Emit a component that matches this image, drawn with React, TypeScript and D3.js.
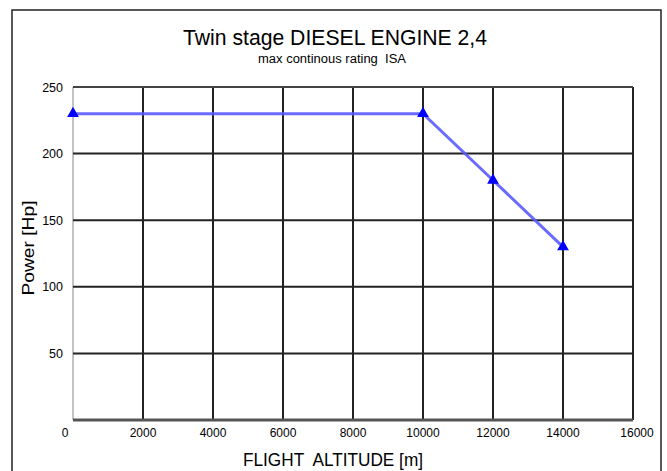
import { useEffect, useRef } from 'react';
import * as d3 from 'd3';

const altitudes = [0, 10000, 12000, 14000];
const power = [230, 230, 180, 130];
const xTicks = [0, 2000, 4000, 6000, 8000, 10000, 12000, 14000, 16000];
const yTicks = [0, 50, 100, 150, 200, 250];

const App = () => {
  const svgRef = useRef(null);

  useEffect(() => {
    if (!svgRef.current) return;
    const width = 667;
    const height = 471;
    const left = 73;
    const right = 633;
    const top = 87;
    const bottom = 420;
    const font = 'Liberation Sans, Arial, sans-serif';

    const svg = d3.select(svgRef.current);
    svg.selectAll('*').remove();
    svg.attr('width', width).attr('height', height).style('background', '#fff');

    // outer frame
    svg
      .append('rect')
      .attr('x', 12)
      .attr('y', 10)
      .attr('width', 649)
      .attr('height', 480)
      .attr('fill', 'none')
      .attr('stroke', '#222')
      .attr('stroke-width', 1.5);

    const x = d3.scaleLinear().domain([0, 16000]).range([left, right]);
    const y = d3.scaleLinear().domain([0, 250]).range([bottom, top]);

    // grid
    svg
      .append('g')
      .selectAll('line')
      .data(xTicks.slice(1))
      .join('line')
      .attr('x1', (d) => x(d))
      .attr('x2', (d) => x(d))
      .attr('y1', top)
      .attr('y2', bottom)
      .attr('stroke', '#222')
      .attr('stroke-width', 2);

    svg
      .append('line')
      .attr('x1', left)
      .attr('x2', left)
      .attr('y1', top)
      .attr('y2', bottom)
      .attr('stroke', '#888')
      .attr('stroke-width', 1);

    svg
      .append('g')
      .selectAll('line')
      .data(yTicks.slice(1))
      .join('line')
      .attr('x1', left)
      .attr('x2', right)
      .attr('y1', (d) => y(d))
      .attr('y2', (d) => y(d))
      .attr('stroke', (d) => (d === 250 ? '#444' : '#222'))
      .attr('stroke-width', 2);

    svg
      .append('line')
      .attr('x1', left)
      .attr('x2', right)
      .attr('y1', bottom)
      .attr('y2', bottom)
      .attr('stroke', '#555')
      .attr('stroke-width', 3);

    // tick labels
    svg
      .append('g')
      .selectAll('text')
      .data(xTicks)
      .join('text')
      .attr('x', (d) => x(d) + (d === 0 ? -8 : d === 16000 ? 4 : 0))
      .attr('y', 437)
      .attr('text-anchor', 'middle')
      .attr('font-family', font)
      .attr('font-size', 12)
      .text((d) => d);

    svg
      .append('g')
      .selectAll('text')
      .data(yTicks.slice(1))
      .join('text')
      .attr('x', 63)
      .attr('y', (d) => y(d) + 4.5)
      .attr('text-anchor', 'end')
      .attr('font-family', font)
      .attr('font-size', 12.5)
      .text((d) => d);

    // series
    const pts = altitudes.map((a, i) => [a, power[i]] as [number, number]);
    svg
      .append('path')
      .datum(pts)
      .attr('fill', 'none')
      .attr('stroke', '#5a5aff')
      .attr('stroke-width', 3)
      .attr('stroke-opacity', 0.9)
      .attr(
        'd',
        d3
          .line<[number, number]>()
          .x((d) => x(d[0]))
          .y((d) => y(d[1]))
      );

    svg
      .append('g')
      .selectAll('path')
      .data(pts)
      .join('path')
      .attr('transform', (d) => `translate(${x(d[0])},${y(d[1])})`)
      .attr('d', d3.symbol(d3.symbolTriangle, 60)())
      .attr('fill', '#0000ff');

    // titles
    svg
      .append('text')
      .attr('x', 335)
      .attr('y', 45)
      .attr('text-anchor', 'middle')
      .attr('font-family', font)
      .attr('font-size', 22)
      .attr('textLength', 304)
      .attr('lengthAdjust', 'spacingAndGlyphs')
      .text('Twin stage DIESEL ENGINE 2,4');

    svg
      .append('text')
      .attr('x', 332)
      .attr('y', 63)
      .attr('text-anchor', 'middle')
      .attr('font-family', font)
      .attr('font-size', 12)
      .attr('textLength', 148)
      .attr('lengthAdjust', 'spacingAndGlyphs')
      .style('white-space', 'pre')
      .text('max continous rating  ISA');

    svg
      .append('text')
      .attr('x', 333)
      .attr('y', 466)
      .attr('text-anchor', 'middle')
      .attr('font-family', font)
      .attr('font-size', 18)
      .attr('textLength', 180)
      .attr('lengthAdjust', 'spacingAndGlyphs')
      .style('white-space', 'pre')
      .text('FLIGHT  ALTITUDE [m]');

    svg
      .append('text')
      .attr('transform', `translate(34,248) rotate(-90)`)
      .attr('text-anchor', 'middle')
      .attr('font-family', font)
      .attr('font-size', 16)
      .attr('textLength', 95)
      .attr('lengthAdjust', 'spacingAndGlyphs')
      .text('Power [Hp]');
  }, []);

  return <svg ref={svgRef} style={{ position: 'absolute', left: 0, top: 0 }}></svg>;
};

export default App;
